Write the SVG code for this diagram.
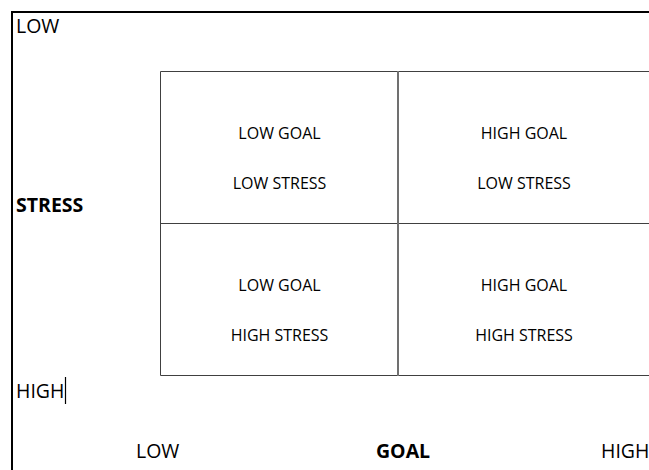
<svg xmlns="http://www.w3.org/2000/svg" width="649" height="470" viewBox="0 0 649 470">
  <style>
    text { font-family: "Open Sans", "Noto Sans", sans-serif; fill: #000; }
    .axis { font-size: 19.5px; }
    .title { font-size: 19.5px; font-weight: bold; }
    .cell { font-size: 16px; text-anchor: middle; }
    .frame { stroke: #000; stroke-width: 2; fill: none; }
    .grid { stroke: #404040; stroke-width: 1; fill: none; }
    .divider { stroke: #707070; stroke-width: 2; fill: none; }
  </style>
  <rect width="649" height="470" fill="#fff"/>

  <!-- outer axis frame: top and left edges only -->
  <path class="frame" d="M12 470 V12 H649"/>

  <!-- quadrant grid -->
  <g id="grid">
    <path class="grid" d="M649 71.5 H160.5 V375.5 H649"/>
    <path class="grid" d="M160.5 223.5 H649"/>
    <path class="divider" d="M398 71 V376"/>
  </g>

  <!-- axis labels -->
  <g id="stress-axis">
    <text class="axis" x="16" y="33">LOW</text>
    <text class="title" x="16" y="212">STRESS</text>
    <text class="axis" x="16" y="398">HIGH</text>
    <line x1="65.5" y1="377" x2="65.5" y2="404" stroke="#000" stroke-width="1.2"/>
  </g>
  <g id="goal-axis">
    <text class="axis" x="136" y="458">LOW</text>
    <text class="title" x="376" y="458">GOAL</text>
    <text class="axis" x="601" y="458">HIGH</text>
  </g>

  <!-- quadrants -->
  <g id="low-goal-low-stress">
    <text class="cell" x="279.5" y="139">LOW GOAL</text>
    <text class="cell" x="279.5" y="189">LOW STRESS</text>
  </g>
  <g id="high-goal-low-stress">
    <text class="cell" x="524" y="139">HIGH GOAL</text>
    <text class="cell" x="524" y="189">LOW STRESS</text>
  </g>
  <g id="low-goal-high-stress">
    <text class="cell" x="279.5" y="291">LOW GOAL</text>
    <text class="cell" x="279.5" y="341">HIGH STRESS</text>
  </g>
  <g id="high-goal-high-stress">
    <text class="cell" x="524" y="291">HIGH GOAL</text>
    <text class="cell" x="524" y="341">HIGH STRESS</text>
  </g>

  <g id="connectors"/>
</svg>
